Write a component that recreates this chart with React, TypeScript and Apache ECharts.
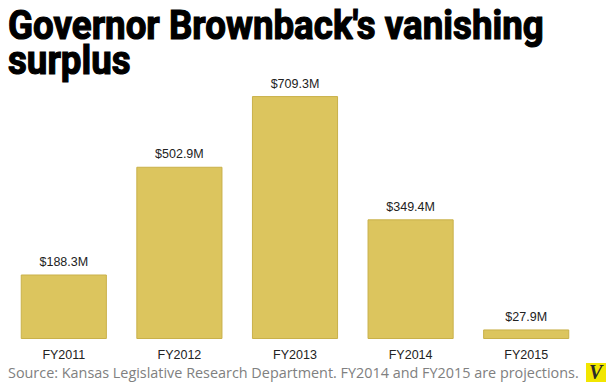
import React, { useEffect, useRef } from "react";
import * as echarts from "echarts";

const categories = ["FY2011", "FY2012", "FY2013", "FY2014", "FY2015"];
const surplus = [188.3, 502.9, 709.3, 349.4, 27.9];
const titleLines = ["Governor Brownback's vanishing", "surplus"];
const sourceText = "Source: Kansas Legislative Research Department. FY2014 and FY2015 are projections.";

export default function App() {
  const ref = useRef<HTMLDivElement>(null);
  useEffect(() => {
    const chart = echarts.init(ref.current!, null, { renderer: "svg" });
    const titleStyle = {
      fontSize: 40,
      fontWeight: "bold",
      fontFamily: "Roboto, sans-serif",
      fill: "#000",
      stroke: "#000",
      lineWidth: 1.2,
      verticalAlign: "bottom",
    };
    chart.setOption({
      animation: false,
      backgroundColor: "#ffffff",
      grid: { left: 6, right: 24, top: 65, bottom: 44 },
      xAxis: {
        type: "category",
        data: categories,
        axisLine: { show: false },
        axisTick: { show: false },
        axisLabel: { color: "#222", fontSize: 12.5, fontFamily: "Liberation Sans, Arial, sans-serif", margin: 9 },
      },
      yAxis: { type: "value", min: 0, max: 800, show: false, splitLine: { show: false } },
      series: [
        {
          type: "bar",
          data: surplus,
          barWidth: "74.5%",
          itemStyle: { color: "#dcc55e", borderColor: "#c9b14a", borderWidth: 1 },
          label: {
            show: true,
            position: "top",
            distance: 6,
            color: "#222",
            fontSize: 12.5,
            fontFamily: "Liberation Sans, Arial, sans-serif",
            formatter: (p: any) => "$" + p.value.toFixed(1) + "M",
          },
        },
      ],
      graphic: [
        {
          type: "text",
          x: 8,
          y: 45,
          scaleX: 0.918,
          style: { ...titleStyle, text: titleLines[0] },
        },
        {
          type: "text",
          x: 8,
          y: 80,
          scaleX: 0.918,
          style: { ...titleStyle, text: titleLines[1] },
        },
        {
          type: "text",
          left: 8,
          top: 365,
          style: {
            text: sourceText,
            fontSize: 14.4,
            fontFamily: "Open Sans, sans-serif",
            fill: "#808080",
          },
        },
        {
          type: "rect",
          shape: { x: 586, y: 363, width: 20, height: 19 },
          style: { fill: "#f2e600" },
        },
        {
          type: "text",
          x: 589,
          y: 362,
          style: {
            text: "V",
            fontSize: 20,
            fontWeight: "bold",
            fontStyle: "italic",
            fontFamily: "Liberation Serif, serif",
            fill: "#2a2a2a",
          },
        },
      ],
    });
    return () => chart.dispose();
  }, []);
  return <div ref={ref} style={{ width: 608, height: 383, position: "absolute", left: 0, top: 0 }} />;
}
